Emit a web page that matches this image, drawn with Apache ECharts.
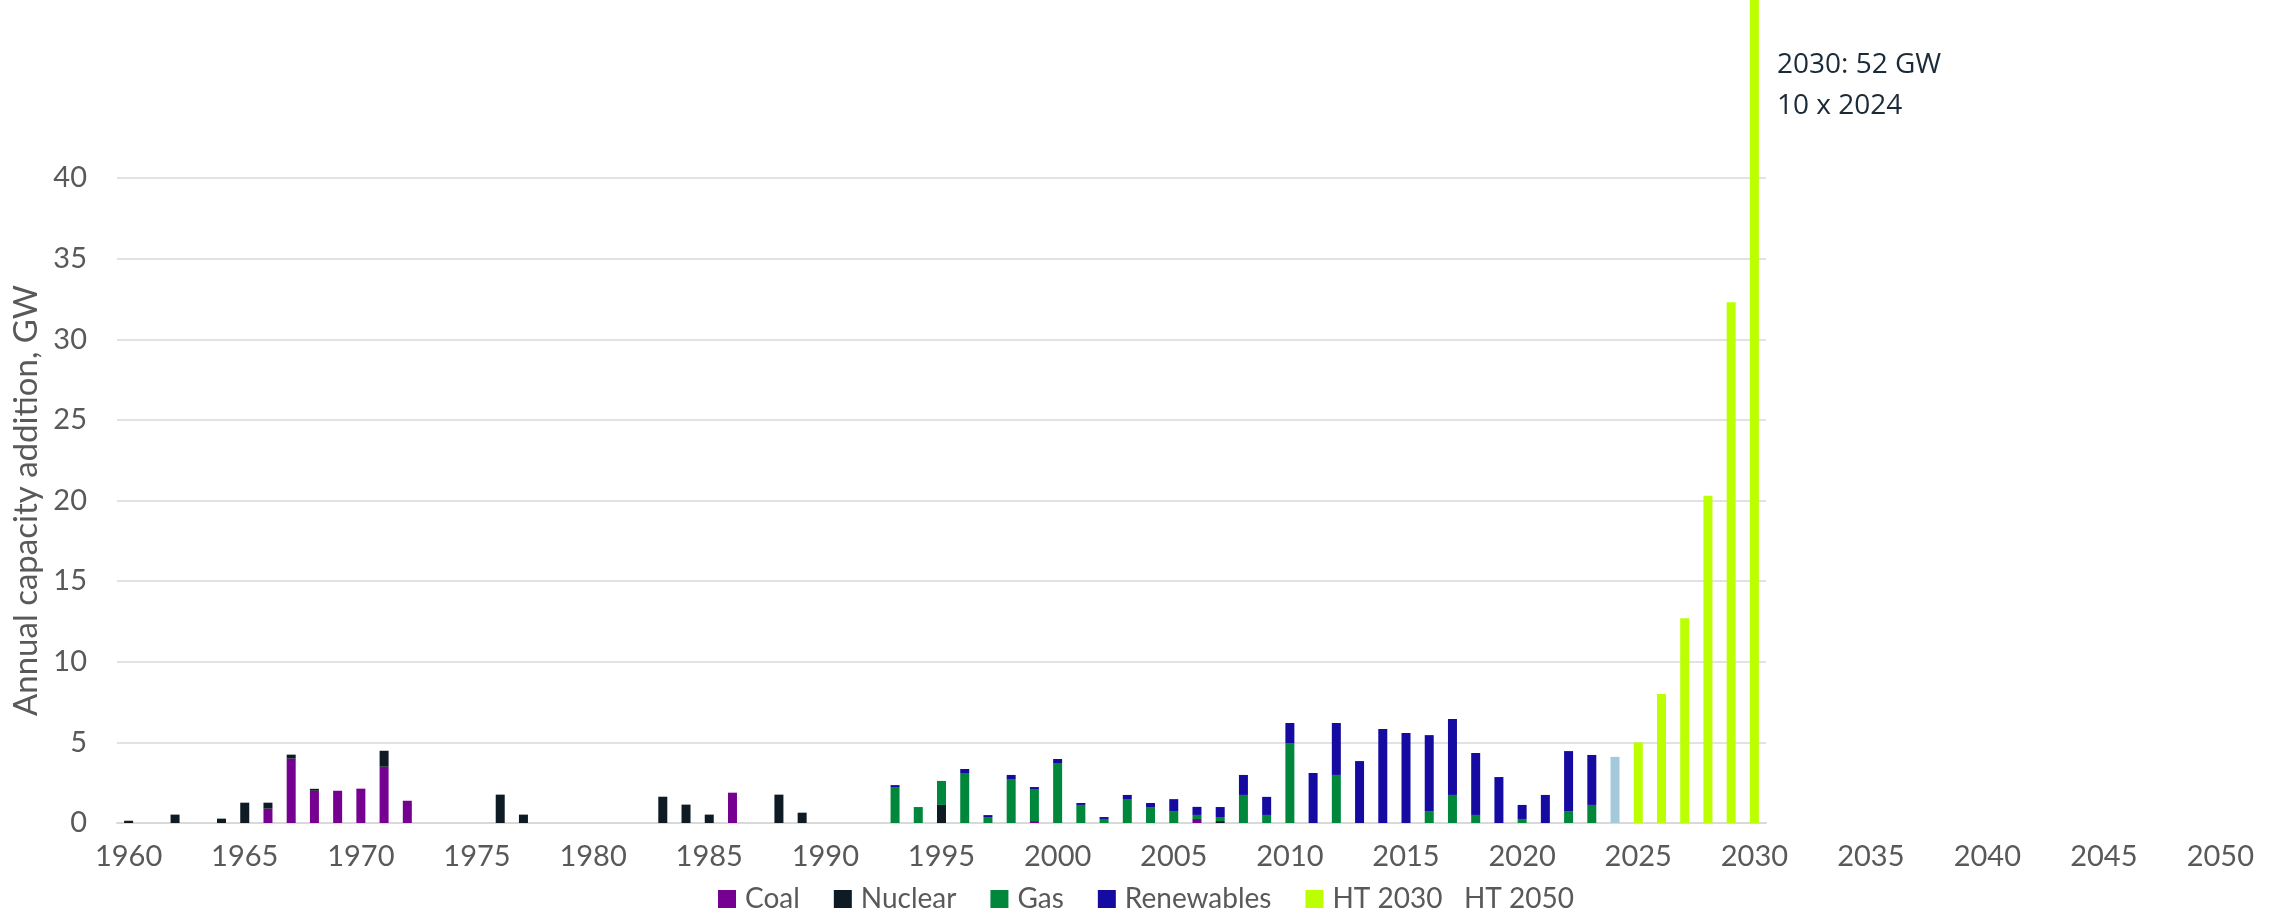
<!DOCTYPE html>
<html>
<head>
<meta charset="utf-8">
<script src="https://cdn.jsdelivr.net/npm/echarts@6/dist/echarts.min.js"></script>
<style>
  html, body { margin: 0; padding: 0; background: #ffffff; }
  #chart { width: 2282px; height: 915px; }
</style>
</head>
<body>
<div id="chart"></div>
<script>
// Year categories: history + build-out to 2030, then the empty outlook years
const firstYear = 1960;
const lastYear = 2030;
const years = [];
for (let y = firstYear; y <= lastYear; y++) years.push(String(y));
const outlookYears = [];
for (let y = lastYear + 1; y <= 2050; y++) outlookYears.push(String(y));

// Annual capacity additions, GW, as [year, value]
const coal = [
  [1966, 0.89], [1967, 3.99], [1968, 2.0], [1969, 2.0], [1970, 2.13],
  [1971, 3.49], [1972, 1.38], [1986, 1.88], [1999, 0.12], [2006, 0.25]
];
const nuclear = [
  [1960, 0.14], [1962, 0.52], [1964, 0.27], [1965, 1.26], [1966, 0.37],
  [1967, 0.25], [1968, 0.12], [1971, 0.99], [1976, 1.76], [1977, 0.52],
  [1983, 1.63], [1984, 1.14], [1985, 0.52], [1988, 1.76], [1989, 0.64],
  [1995, 1.12], [2007, 0.12]
];
const gas = [
  [1993, 2.23], [1994, 0.99], [1995, 1.49], [1996, 3.10], [1997, 0.37],
  [1998, 2.73], [1999, 1.99], [2000, 3.72], [2001, 1.12], [2002, 0.25],
  [2003, 1.49], [2004, 0.99], [2005, 0.74], [2006, 0.25], [2007, 0.25],
  [2008, 1.74], [2009, 0.5], [2010, 4.96], [2012, 2.98], [2016, 0.74],
  [2017, 1.74], [2018, 0.5], [2020, 0.25], [2022, 0.74], [2023, 1.12]
];
const renewables = [
  [1993, 0.12], [1996, 0.25], [1997, 0.12], [1998, 0.25], [1999, 0.12],
  [2000, 0.25], [2001, 0.12], [2002, 0.12], [2003, 0.25], [2004, 0.25],
  [2005, 0.74], [2006, 0.5], [2007, 0.62], [2008, 1.24], [2009, 1.12],
  [2010, 1.24], [2011, 3.10], [2012, 3.22], [2013, 3.84], [2014, 5.83],
  [2015, 5.58], [2016, 4.71], [2017, 4.71], [2018, 3.84], [2019, 2.85],
  [2020, 0.87], [2021, 1.74], [2022, 3.72], [2023, 3.10]
];
const year2024 = [[2024, 4.1]];
const ht2030 = [
  [2025, 5.0], [2026, 8.0], [2027, 12.7], [2028, 20.3], [2029, 32.3], [2030, 52]
];
const ht2050 = [];

// Y axis ticks
const yMin = 0, yMax = 40, yStep = 5;

const seriesColors = {
  coal: '#76008f',
  nuclear: '#0e1b24',
  gas: '#00873c',
  renewables: '#150ba0',
  y2024: '#a3c9da',
  ht2030: '#bbff00',
  ht2050: '#ffffff'
};

const labelFont = 'Lato';
const labelColor = '#595959';

function byYear(pairs) {
  const arr = years.map(() => null);
  pairs.forEach(([y, v]) => { arr[y - firstYear] = v; });
  return arr;
}

function barSeries(name, pairs, color) {
  return {
    name: name,
    type: 'bar',
    stack: 'total',
    xAxisIndex: 0,
    yAxisIndex: 0,
    barWidth: 9,
    clip: false,
    itemStyle: { color: color },
    emphasis: { disabled: true },
    data: byYear(pairs)
  };
}

const everyFifth = (i, v) => Number(v) % 5 === 0;

const tickLabel = {
  interval: everyFifth,
  margin: 19,
  fontFamily: labelFont,
  fontSize: 29,
  color: labelColor
};

const chart = echarts.init(document.getElementById('chart'), null, { renderer: 'canvas' });

chart.setOption({
  animation: false,
  backgroundColor: '#ffffff',
  grid: [
    { left: 117, top: 178, width: 1649, bottom: 92, containLabel: false },
    { left: 1766, top: 178, width: 466, bottom: 92, containLabel: false }
  ],
  xAxis: [
    {
      type: 'category',
      gridIndex: 0,
      data: years,
      boundaryGap: true,
      axisLine: { show: true, lineStyle: { color: '#d9d9d9', width: 2 } },
      axisTick: { show: false },
      axisLabel: tickLabel,
      splitLine: { show: false }
    },
    {
      type: 'category',
      gridIndex: 1,
      data: outlookYears,
      boundaryGap: true,
      axisLine: { show: false },
      axisTick: { show: false },
      axisLabel: tickLabel,
      splitLine: { show: false }
    }
  ],
  yAxis: [
    {
      type: 'value',
      gridIndex: 0,
      min: yMin,
      max: yMax,
      interval: yStep,
      name: 'Annual capacity addition, GW',
      nameLocation: 'middle',
      nameRotate: 90,
      nameGap: 64,
      nameTextStyle: { fontFamily: labelFont, fontSize: 33, color: labelColor },
      axisLine: { show: false },
      axisTick: { show: false },
      axisLabel: { margin: 30, fontFamily: labelFont, fontSize: 29, color: labelColor },
      splitLine: { show: true, lineStyle: { color: '#d9d9d9', width: 1.5 } }
    },
    {
      type: 'value',
      gridIndex: 1,
      min: yMin,
      max: yMax,
      show: false,
      splitLine: { show: false }
    }
  ],
  legend: [
    {
      data: ['Coal', 'Nuclear', 'Gas', 'Renewables', 'HT 2030'],
      left: 713,
      top: 880,
      icon: 'rect',
      itemWidth: 18,
      itemHeight: 18,
      itemGap: 34,
      selectedMode: false,
      textStyle: {
        fontFamily: labelFont,
        fontSize: 28,
        color: labelColor,
        padding: [0, 0, 0, 4]
      }
    },
    {
      data: [{ name: 'HT 2050', icon: 'none' }],
      right: 703,
      top: 880,
      itemWidth: 0,
      itemHeight: 18,
      selectedMode: false,
      textStyle: {
        fontFamily: labelFont,
        fontSize: 28,
        color: labelColor
      }
    }
  ],
  series: [
    barSeries('Coal', coal, seriesColors.coal),
    barSeries('Nuclear', nuclear, seriesColors.nuclear),
    barSeries('Gas', gas, seriesColors.gas),
    barSeries('Renewables', renewables, seriesColors.renewables),
    barSeries('2024', year2024, seriesColors.y2024),
    barSeries('HT 2030', ht2030, seriesColors.ht2030),
    barSeries('HT 2050', ht2050, seriesColors.ht2050)
  ],
  graphic: [
    {
      type: 'text',
      left: 1777,
      top: 45,
      silent: true,
      style: {
        text: '2030: 52 GW\n10 x 2024',
        font: '28px "Open Sans"',
        fill: '#1b2a38',
        lineHeight: 41
      }
    }
  ]
});
</script>
</body>
</html>
